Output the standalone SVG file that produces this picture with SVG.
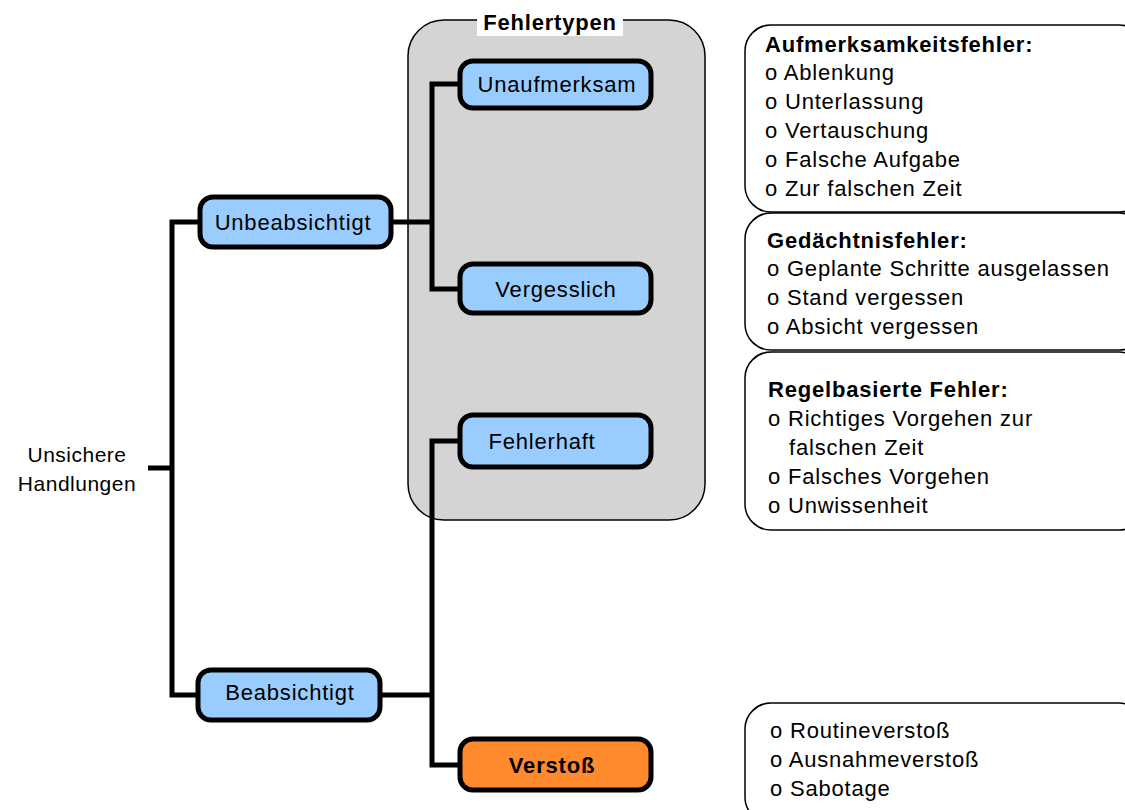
<svg xmlns="http://www.w3.org/2000/svg" width="1125" height="810" viewBox="0 0 1125 810">
<style>
text{font-family:"Liberation Sans",Arial,sans-serif;font-size:22px;letter-spacing:0.8px;fill:#000}
.b{font-weight:bold}
.node{fill:#99ccff;stroke:#000;stroke-width:5}
.orange{fill:#ff8a2e;stroke:#000;stroke-width:5}
.conn{fill:none;stroke:#000;stroke-width:5}
.info{fill:#fff;stroke:#000;stroke-width:1.5}
.ctr{text-anchor:middle}
.root{font-size:21px;letter-spacing:0.5px}
</style>
<rect width="1125" height="810" fill="#fff"/>
<g id="group-fehlertypen">
<rect x="408" y="20" width="297" height="500" rx="36" fill="#d4d4d4" stroke="#000" stroke-width="1.5"/>
<rect x="477" y="8" width="146" height="28" fill="#fff"/>
<text class="b ctr" x="550" y="30">Fehlertypen</text>
</g>
<g id="connectors">
<path class="conn" d="M148 468H172M200 222H172V695H198"/>
<path class="conn" d="M391 222H432M460 84H432V289H460"/>
<path class="conn" d="M380 695H432M460 441H432V765H460"/>
</g>
<g id="n-unsichere">
<text class="ctr root" x="77" y="462">Unsichere</text>
<text class="ctr root" x="77" y="491">Handlungen</text>
</g>
<g id="n-unbeabsichtigt">
<rect class="node" x="200" y="197" width="191" height="50" rx="13"/>
<text class="ctr" x="293" y="230">Unbeabsichtigt</text>
</g>
<g id="n-beabsichtigt">
<rect class="node" x="198" y="670" width="182" height="50" rx="13"/>
<text class="ctr" x="290" y="700">Beabsichtigt</text>
</g>
<g id="n-unaufmerksam">
<rect class="node" x="460" y="61" width="191" height="47" rx="13"/>
<text class="ctr" x="557" y="92">Unaufmerksam</text>
</g>
<g id="n-vergesslich">
<rect class="node" x="460" y="264" width="191" height="49" rx="13"/>
<text class="ctr" x="556" y="297">Vergesslich</text>
</g>
<g id="n-fehlerhaft">
<rect class="node" x="460" y="415" width="191" height="52" rx="13"/>
<text class="ctr" x="542" y="449">Fehlerhaft</text>
</g>
<g id="n-verstoss">
<rect class="orange" x="460" y="739" width="191" height="51" rx="13"/>
<text class="b ctr" x="552" y="773">Verstoß</text>
</g>
<g id="info-aufmerksamkeit">
<rect class="info" x="745" y="25" width="400" height="187" rx="26"/>
<text class="b" x="765" y="52">Aufmerksamkeitsfehler:</text>
<text x="765" y="80">o Ablenkung</text>
<text x="765" y="109">o Unterlassung</text>
<text x="765" y="138">o Vertauschung</text>
<text x="765" y="167">o Falsche Aufgabe</text>
<text x="765" y="196">o Zur falschen Zeit</text>
</g>
<g id="info-gedaechtnis">
<rect class="info" x="745" y="213" width="400" height="137" rx="26"/>
<text class="b" x="767" y="248">Gedächtnisfehler:</text>
<text x="767" y="276">o Geplante Schritte ausgelassen</text>
<text x="767" y="305">o Stand vergessen</text>
<text x="767" y="334">o Absicht vergessen</text>
</g>
<g id="info-regel">
<rect class="info" x="745" y="352" width="400" height="178" rx="26"/>
<text class="b" x="768" y="397">Regelbasierte Fehler:</text>
<text x="768" y="426">o Richtiges Vorgehen zur</text>
<text x="789" y="455">falschen Zeit</text>
<text x="768" y="484">o Falsches Vorgehen</text>
<text x="768" y="513">o Unwissenheit</text>
</g>
<g id="info-verstoss">
<rect class="info" x="745" y="703" width="400" height="120" rx="26"/>
<text x="770" y="738">o Routineverstoß</text>
<text x="770" y="767">o Ausnahmeverstoß</text>
<text x="770" y="796">o Sabotage</text>
</g>
</svg>
